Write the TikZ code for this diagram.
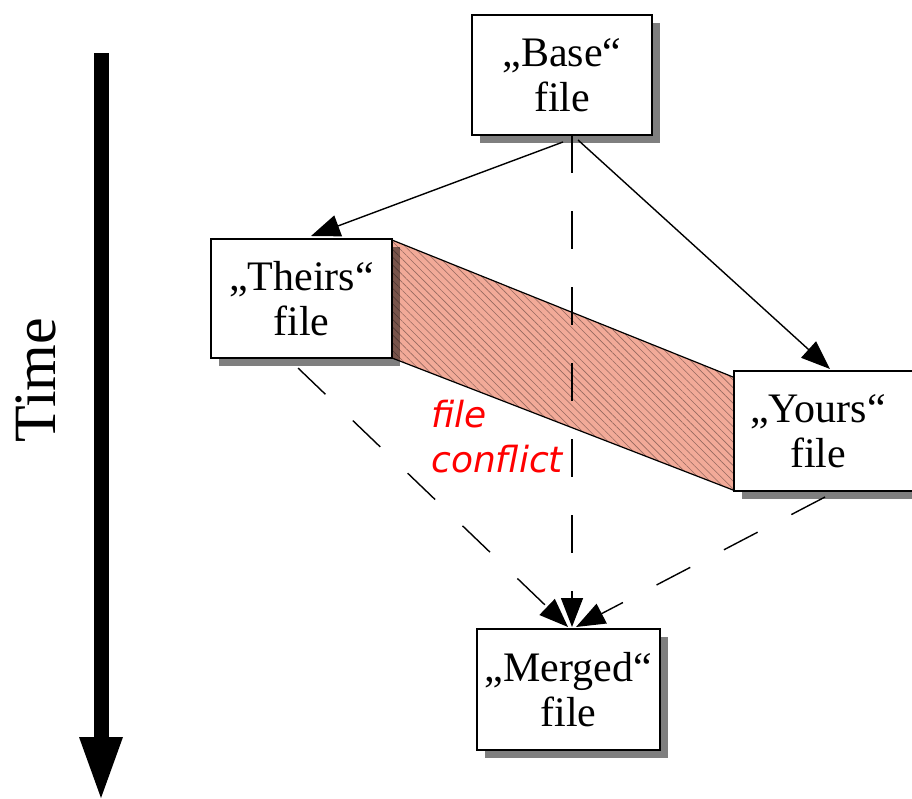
\documentclass[tikz,border=0pt]{standalone}
\usepackage{fontspec}
\setmainfont{Liberation Serif}
\newfontfamily\conflictfont{DejaVu Sans}
\usetikzlibrary{shadows,patterns.meta,arrows.meta}
\definecolor{salmonfill}{RGB}{242,170,152}
\definecolor{hatchc}{RGB}{150,105,95}
\definecolor{confred}{RGB}{255,0,0}
\tikzset{
  filebox/.style={draw=black, line width=2pt, fill=white, inner sep=0pt, align=center,
    font=\fontsize{42}{45}\selectfont,
    drop shadow={shadow xshift=8pt, shadow yshift=-8pt, fill=black, opacity=0.5}},
  filetext/.style={inner sep=0pt, align=center, font=\fontsize{42}{45}\selectfont},
  bigtip/.style={-{Triangle[length=29pt,width=22pt]}},
  solidconn/.style={bigtip, line width=1.4pt},
  dashconn/.style={bigtip, line width=1.4pt, dash pattern=on 38pt off 38pt},
}
\begin{document}
\begin{tikzpicture}[x=1pt,y=-1pt]
\useasboundingbox (0,0) rectangle (912,798);
% conflict band
\coordinate (c1) at (392,240);
\coordinate (c2) at (733,377);
\coordinate (c3) at (733,490);
\coordinate (c4) at (392,358);
\fill[salmonfill] (c1) -- (c2) -- (c3) -- (c4) -- cycle;
\fill[pattern={Lines[angle=-45,distance=5.5pt,line width=0.6pt]}, pattern color=hatchc]
  (c1) -- (c2) -- (c3) -- (c4) -- cycle;
\draw[line width=1.2pt] (c1) -- (c2) (c4) -- (c3);
% boxes
\node[filebox, minimum width=180pt, minimum height=120pt] (base) at (562,75) {„Base“\\file};
\node[filebox, minimum width=181pt, minimum height=119pt] (theirs) at (301.5,298.5) {„Theirs“\\file};
\node[filebox, minimum width=200pt, minimum height=120pt, anchor=west] (yours) at (733,431) {};
\node[filetext] (yourstext) at (818,431) {„Yours“\\file};
\node[filebox, minimum width=183pt, minimum height=121pt] (merged) at (568.5,689.5) {„Merged“\\file};
% anchor coordinates
\coordinate (bt) at (563,142);
\coordinate (by) at (578,140);
\coordinate (bm) at (572,135);
\coordinate (tt) at (311,236);
\coordinate (yt) at (830,369);
\coordinate (ts) at (298,368);
\coordinate (ys) at (825,497);
\coordinate (mt) at (572,627);
\coordinate (mtl) at (568,627);
\coordinate (mtr) at (576,627);
% connectors
\draw[solidconn] (bt) -- (tt);
\draw[solidconn] (by) -- (yt);
\draw[dashconn] (bm) -- (mt);
\draw[dashconn] (ts) -- (mtl);
\draw[dashconn] (ys) -- (mtr);
% conflict label
\node[inner sep=0pt, anchor=base west, align=left, text=confred,
  font=\conflictfont\itshape\fontsize{36}{45}\selectfont] (conf) at (431,472) {file\\conflict};
% time arrow
\fill[black] (93.5,53) rectangle (108.5,740);
\fill[black] (79,737) -- (123,737) -- (101,798) -- cycle;
\node[rotate=90, inner sep=0pt, font=\fontsize{60}{60}\selectfont] (time) at (36,380) {Time};
\end{tikzpicture}
\end{document}
